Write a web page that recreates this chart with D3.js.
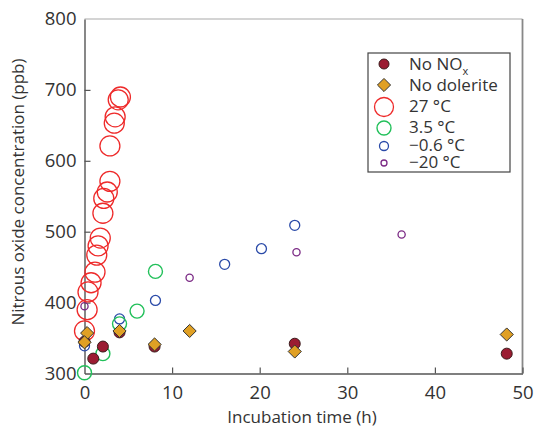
<!DOCTYPE html>
<html><head><meta charset="utf-8">
<script src="https://cdn.jsdelivr.net/npm/d3@7"></script>
<style>body{margin:0;background:#fff}text{font-family:"Open Sans",Lato,sans-serif;fill:#333}</style>
</head><body><svg id="c" width="534" height="429"></svg>
<script>
const xTicks = [0,10,20,30,40,50];
const yTicks = [300,400,500,600,700,800];
// series: [time (h), N2O (ppb)]
const s27 = [[0,360],[0.3,390],[0.4,415],[0.75,428],[1.2,443],[1.4,467],[1.55,480],[1.8,491],[2.1,526],[2.2,547],[2.6,556],[2.9,571],[2.9,621],[3.4,653],[3.5,662],[3.85,686],[4.1,690]];
const s35 = [[0,301],[2.1,328],[4,370],[6,388],[8.1,444]];
const sm06 = [[0,339],[4,377],[8.1,403],[16,454],[20.2,476],[24,509]];
const sm20 = [[0,395],[12,435],[24.2,471],[36.2,496]];
const noNOx = [[0,345],[1,321],[2.1,338],[4,358],[8,338],[24,342],[48.2,328]];
const noDol = [[0.3,357],[0,344],[4,360],[8,341],[12,360],[24,331],[48.2,355]];

const svg = d3.select("#c");
const L=84.5,R=522.5,T=19,B=373.5;
const x = d3.scaleLinear().domain([0,50]).range([L,R]);
const y = d3.scaleLinear().domain([300,800]).range([B,T]);

// frame
svg.append("line").attr("x1",L).attr("x2",R).attr("y1",T).attr("y2",T).attr("stroke","#aaa").attr("stroke-width",1.2);
svg.append("line").attr("x1",R).attr("x2",R).attr("y1",T).attr("y2",B).attr("stroke","#888").attr("stroke-width",1.8);

const xa = svg.append("g").attr("transform",`translate(0,${B})`)
  .call(d3.axisBottom(x).tickValues(xTicks).tickSizeInner(-6).tickSizeOuter(0).tickPadding(10));
const ya = svg.append("g").attr("transform",`translate(${L},0)`)
  .call(d3.axisLeft(y).tickValues(yTicks).tickSizeInner(-6).tickSizeOuter(0).tickPadding(8));
[xa,ya].forEach(a=>{a.select(".domain").attr("stroke","#555").attr("stroke-width",1.4);
  a.selectAll(".tick line").attr("stroke","#555").attr("stroke-width",1.2);
  a.selectAll("text").style("font-size","18.5px").attr("fill","#333");});
xa.selectAll("text").attr("dy","0.85em");
xa.selectAll(".tick").filter(d=>d===0).select("line").remove();
ya.selectAll(".tick").filter(d=>d===300||d===800).select("line").remove();

svg.append("text").attr("x",302).attr("y",423).attr("text-anchor","middle").style("font-size","17px").text("Incubation time (h)");
svg.append("text").attr("transform","translate(24,192) rotate(-90)").attr("text-anchor","middle").style("font-size","17px").text("Nitrous oxide concentration (ppb)");

const g = svg.append("g");
function circles(data,r,col,sw){
  g.append("g").selectAll("circle").data(data).join("circle")
   .attr("cx",d=>x(d[0])).attr("cy",d=>y(d[1])).attr("r",r)
   .attr("fill","none").attr("stroke",col).attr("stroke-width",sw);
}
circles(sm20,3.6,"#7b2a85",1.3);
circles(sm06,5,"#2a4aa8",1.3);
circles(s35,7,"#22c05a",1.4);
circles(s27,10,"#ee2a2a",1.3);
g.append("g").selectAll("circle").data(noNOx).join("circle")
  .attr("cx",d=>x(d[0])).attr("cy",d=>y(d[1])).attr("r",5.5)
  .attr("fill","#9b1c32").attr("stroke","#3a1a1a").attr("stroke-width",1);
const dia = d3.symbol().type(d3.symbolDiamond2).size(110);
g.append("g").selectAll("path").data(noDol).join("path")
  .attr("transform",d=>`translate(${x(d[0])},${y(d[1])})`).attr("d",dia())
  .attr("fill","#e0a024").attr("stroke","#333").attr("stroke-width",1);

// legend
const lg = svg.append("g");
lg.append("rect").attr("x",368).attr("y",53).attr("width",142).attr("height",119).attr("fill","#fff").attr("stroke","#444").attr("stroke-width",1.2);
const sx=384, tx=409;
lg.append("circle").attr("cx",sx).attr("cy",64).attr("r",5).attr("fill","#9b1c32").attr("stroke","#3a1a1a");
lg.append("path").attr("transform",`translate(${sx},85)`).attr("d",dia()).attr("fill","#e0a024").attr("stroke","#333");
lg.append("circle").attr("cx",sx).attr("cy",107).attr("r",9.5).attr("fill","none").attr("stroke","#ee2a2a").attr("stroke-width",1.3);
lg.append("circle").attr("cx",sx).attr("cy",128).attr("r",7).attr("fill","none").attr("stroke","#22c05a").attr("stroke-width",1.4);
lg.append("circle").attr("cx",sx).attr("cy",146).attr("r",4.5).attr("fill","none").attr("stroke","#2a4aa8").attr("stroke-width",1.3);
lg.append("circle").attr("cx",sx).attr("cy",163).attr("r",3).attr("fill","none").attr("stroke","#7b2a85").attr("stroke-width",1.3);
const labs=[["No NO",70],["No dolerite",91],["27 °C",112],["3.5 °C",133],["\u22120.6 °C",151],["\u221220 °C",168]];
labs.forEach(([t,yy],i)=>{
  const te=lg.append("text").attr("x",tx).attr("y",yy).style("font-size","17px").text(t);
  if(i===0) te.append("tspan").attr("dy",5).style("font-size","11px").text("x");
});
</script></body></html>
